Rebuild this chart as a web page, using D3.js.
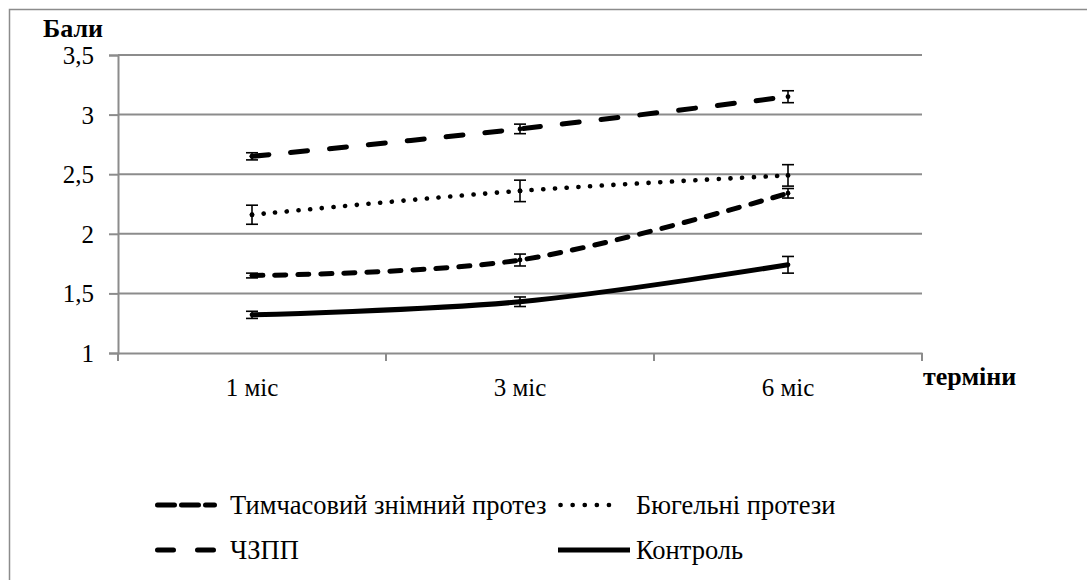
<!DOCTYPE html>
<html>
<head>
<meta charset="utf-8">
<script src="https://cdn.jsdelivr.net/npm/d3@7"></script>
<style>
  html, body { margin: 0; padding: 0; background: #fff; }
  svg { display: block; }
</style>
</head>
<body>
<svg id="chart" width="1087" height="580"></svg>
<script>
// Terms of observation
const terms = ["1 міс", "3 міс", "6 міс"];
// Y axis tick values and their labels
const yTicks = [1, 1.5, 2, 2.5, 3, 3.5];
const yTickLabels = ["1", "1,5", "2", "2,5", "3", "3,5"];

// Mean scores per group and their error margins
const tempDenture = [2.65, 2.88, 3.15];
const tempDentureErr = [0.03, 0.04, 0.05];
const claspDenture = [2.16, 2.36, 2.49];
const claspDentureErr = [0.08, 0.09, 0.09];
const partialDenture = [1.65, 1.78, 2.34];
const partialDentureErr = [0.02, 0.05, 0.04];
const control = [1.32, 1.43, 1.74];
const controlErr = [0.03, 0.04, 0.07];

const seriesNames = ["Тимчасовий знімний протез", "Бюгельні протези", "ЧЗПП", "Контроль"];

const FONT = "Liberation Serif";

const series = [
  { name: seriesNames[0], values: tempDenture, err: tempDentureErr, dash: "17 22", width: 5, cap: "round", legendDash: "17 7" },
  { name: seriesNames[1], values: claspDenture, err: claspDentureErr, dash: "0.1 11.6", width: 4.6, cap: "round", legendDash: "0.1 12" },
  { name: seriesNames[2], values: partialDenture, err: partialDentureErr, dash: "11 12", width: 5, cap: "round", legendDash: "16 24" },
  { name: seriesNames[3], values: control, err: controlErr, dash: null, width: 5, cap: "butt", legendDash: null }
];

const svg = d3.select("#chart").attr("font-family", FONT);

// outer frame
svg.append("rect")
  .attr("x", 9.5).attr("y", 9.5)
  .attr("width", 1100).attr("height", 600)
  .attr("fill", "none").attr("stroke", "#8c8c8c").attr("stroke-width", 1.5);

const plot = { left: 118, right: 922, top: 55, bottom: 353 };

const x = d3.scaleBand().domain(terms).range([plot.left, plot.right]).padding(0);
const y = d3.scaleLinear().domain([1, 3.5]).range([plot.bottom, plot.top]);
const xc = d => x(d) + x.bandwidth() / 2;

const grid = "#8c8c8c";

// horizontal gridlines
svg.append("g").selectAll("line").data(yTicks.slice(1)).join("line")
  .attr("x1", plot.left).attr("x2", plot.right)
  .attr("y1", d => y(d)).attr("y2", d => y(d))
  .attr("stroke", grid).attr("stroke-width", 2);

// y axis
const yAxis = svg.append("g")
  .attr("transform", `translate(${plot.left},0)`)
  .call(d3.axisLeft(y).tickValues(yTicks).tickFormat((d, i) => yTickLabels[i]).tickSize(9).tickPadding(15));
yAxis.select(".domain").attr("stroke", grid).attr("stroke-width", 2);
yAxis.selectAll(".tick line").attr("stroke", grid).attr("stroke-width", 2);
yAxis.selectAll(".tick text")
  .attr("font-family", FONT).attr("font-size", 25).attr("fill", "#000").attr("dy", "0.34em");

// x axis
const xAxis = svg.append("g")
  .attr("transform", `translate(0,${plot.bottom})`)
  .call(d3.axisBottom(x).tickSize(0).tickPadding(25));
xAxis.select(".domain").attr("stroke", grid).attr("stroke-width", 2);
xAxis.selectAll(".tick text")
  .attr("font-family", FONT).attr("font-size", 25).attr("fill", "#000");
// category boundary ticks
const bounds = terms.map(t => x(t)).concat([plot.right]);
xAxis.append("g").selectAll("line").data(bounds).join("line")
  .attr("x1", d => d).attr("x2", d => d)
  .attr("y1", 0).attr("y2", 8)
  .attr("stroke", grid).attr("stroke-width", 2);

// axis titles
svg.append("text").attr("x", 43).attr("y", 37)
  .attr("font-family", FONT).attr("font-size", 26).attr("font-weight", "bold").text("Бали");
svg.append("text").attr("x", 923).attr("y", 385)
  .attr("font-family", FONT).attr("font-size", 26).attr("font-weight", "bold").text("терміни");

// smoothed series lines
const line = d3.line()
  .x((d, i) => xc(terms[i]))
  .y(d => y(d))
  .curve(d3.curveCatmullRom.alpha(0.5));

const lines = svg.append("g");
series.forEach(s => {
  lines.append("path")
    .datum(s.values)
    .attr("d", line)
    .attr("fill", "none")
    .attr("stroke", "#000")
    .attr("stroke-width", s.width)
    .attr("stroke-linecap", s.cap)
    .attr("stroke-dasharray", s.dash);
});

// error bars
const eb = svg.append("g");
series.forEach(s => {
  s.values.forEach((v, i) => {
    const cx = xc(terms[i]);
    const lo = y(v - s.err[i]), hi = y(v + s.err[i]);
    eb.append("line").attr("x1", cx).attr("x2", cx).attr("y1", lo).attr("y2", hi)
      .attr("stroke", "#000").attr("stroke-width", 1.6);
    [lo, hi].forEach(yy => {
      eb.append("line").attr("x1", cx - 6).attr("x2", cx + 6).attr("y1", yy).attr("y2", yy)
        .attr("stroke", "#000").attr("stroke-width", 1.6);
    });
    eb.append("circle").attr("cx", cx).attr("cy", y(v)).attr("r", 2.4).attr("fill", "#000");
  });
});

// legend
const legendItems = [
  { s: series[0], x: 155, y: 505, len: 62, tx: 230 },
  { s: series[1], x: 558, y: 505, len: 62, tx: 636 },
  { s: series[2], x: 155, y: 550, len: 62, tx: 230 },
  { s: series[3], x: 558, y: 550, len: 72, tx: 636 }
];
const lg = svg.append("g");
legendItems.forEach(it => {
  const lx1 = it.x + (it.s.cap === "round" ? 2.5 : 0);
  const lx2 = it.x + it.len - (it.s.cap === "round" ? 2.5 : 0);
  lg.append("line")
    .attr("x1", lx1).attr("x2", lx2)
    .attr("y1", it.y).attr("y2", it.y)
    .attr("stroke", "#000")
    .attr("stroke-width", it.s.width)
    .attr("stroke-linecap", it.s.cap)
    .attr("stroke-dasharray", it.s.legendDash);
  lg.append("text")
    .attr("x", it.tx)
    .attr("y", it.y + 9)
    .attr("font-family", FONT)
    .attr("font-size", 26.5)
    .text(it.s.name);
});
</script>
</body>
</html>
